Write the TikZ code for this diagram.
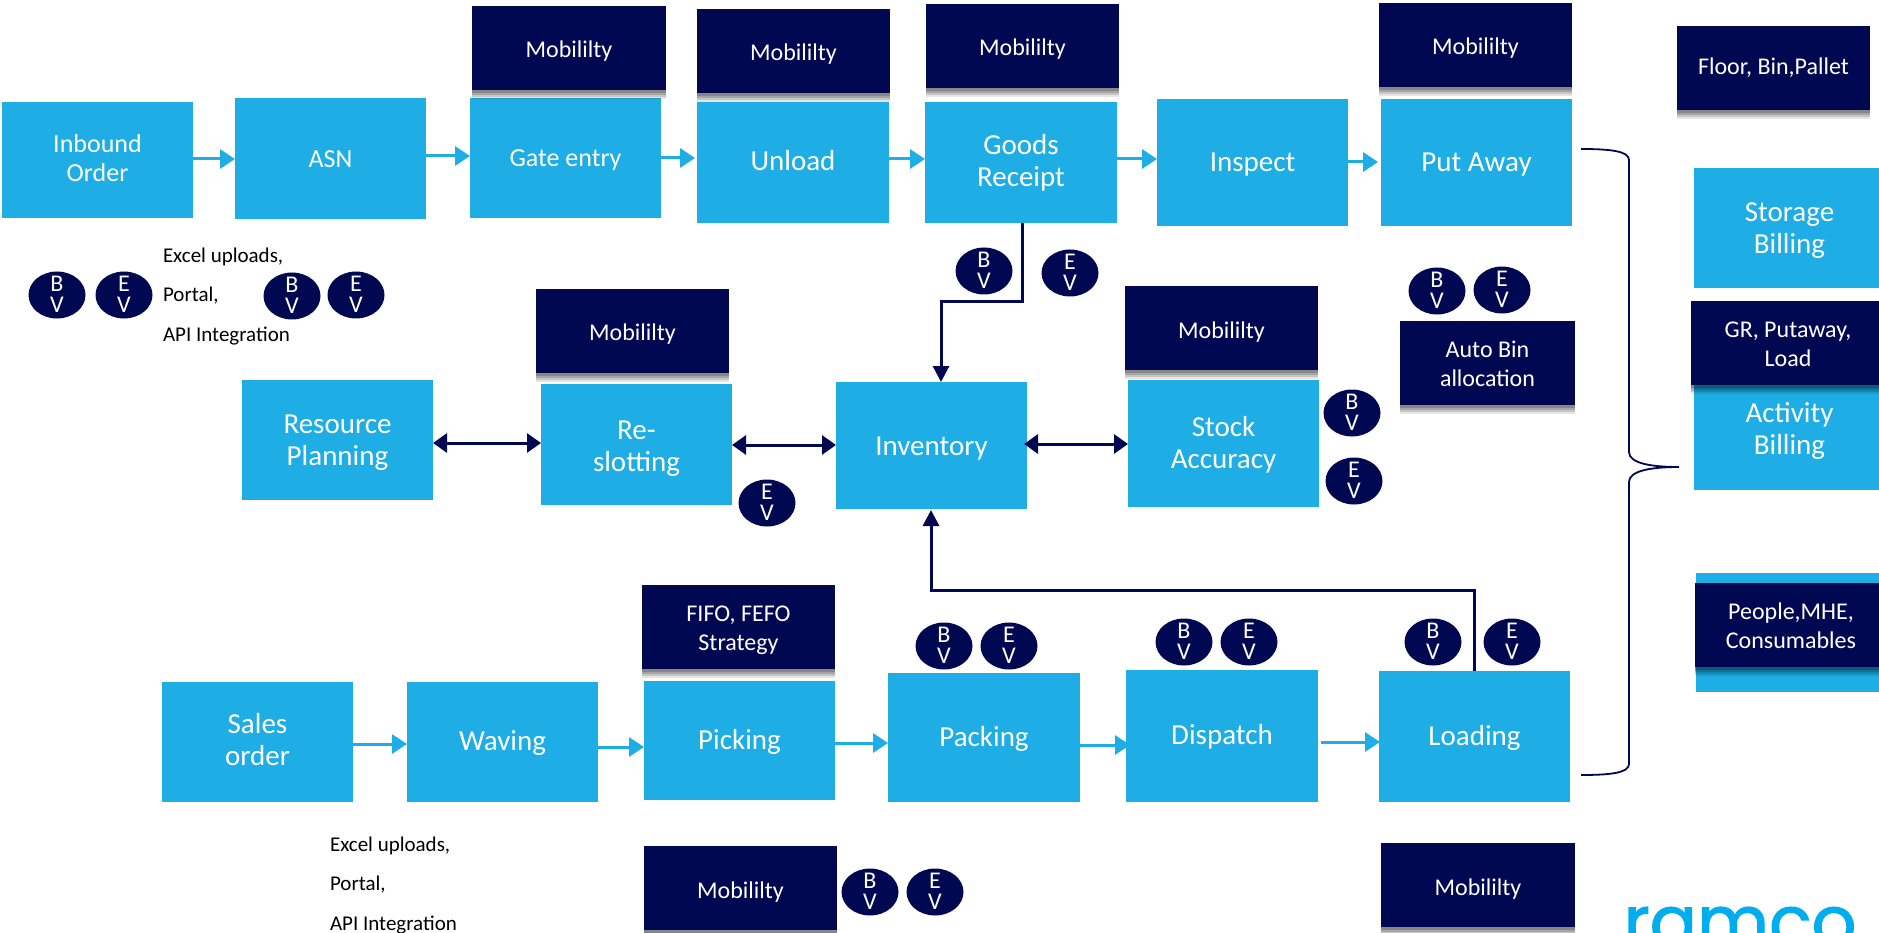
\documentclass[tikz,border=0pt]{standalone}
\usepackage{fontspec}
\setmainfont{Carlito}
\newfontfamily\logofont[FakeBold=1.6]{Poppins}
\usetikzlibrary{arrows.meta,shapes.geometric,shadows}
\definecolor{wmsblue}{HTML}{1EADE4}
\definecolor{wmsnavy}{HTML}{010852}
\definecolor{logoblue}{HTML}{00AEEF}
\tikzset{
  x=1pt,y=-1pt,
  base/.style={inner sep=0pt,outer sep=0pt,align=center,text=white},
  proc/.style={base,fill=wmsblue,font=\fontsize{29}{32}\selectfont},
  procs/.style={proc,font=\fontsize{26}{29}\selectfont},
  tag/.style={base,fill=wmsnavy,font=\fontsize{24}{29}\selectfont,
    drop shadow={shadow xshift=0pt,shadow yshift=-9pt,opacity=.10,fill=black},
    drop shadow={shadow xshift=0pt,shadow yshift=-7pt,opacity=.14,fill=black},
    drop shadow={shadow xshift=0pt,shadow yshift=-5pt,opacity=.16,fill=black},
    drop shadow={shadow xshift=0pt,shadow yshift=-3pt,opacity=.18,fill=black}},
  vbub/.style={base,ellipse,fill=wmsnavy,minimum width=57pt,minimum height=47pt,font=\fontsize{24}{19}\selectfont},
  note/.style={anchor=west,inner sep=0pt,outer sep=0pt,text=black,font=\fontsize{21}{24}\selectfont},
  flow/.style={draw=wmsblue,line width=3pt,-{Triangle[length=15pt,width=19pt]}},
  link/.style={draw=wmsnavy,line width=3pt,-{Triangle[length=16pt,width=16pt]}},
  twin/.style={draw=wmsnavy,line width=3pt,{Triangle[length=14pt,width=19pt]}-{Triangle[length=14pt,width=19pt]}},
  brace/.style={draw=wmsnavy,line width=1.8pt}
}
% optional argument: how far the text sits below the box centre
\newcommand{\wmsbox}[8][3]{\node[#2,minimum width={(#6-#4)*1pt},minimum height={(#7-#5)*1pt}] (#3) at ({(#4+#6)/2},{(#5+#7)/2}) {\raisebox{-#1pt}[\height][\depth]{\begin{tabular}{@{}c@{}}#8\end{tabular}}};}
\newcommand{\wmsbub}[4]{\node[vbub] (#1) at (#2,#3) {\raisebox{-8pt}[0pt][0pt]{\makebox[0pt]{\begin{tabular}{@{}c@{}}#4\end{tabular}}}};}
\begin{document}
\begin{tikzpicture}
\useasboundingbox (0,0) rectangle (1879,933);
% process boxes
\wmsbox[1]{procs}{inb}{2}{102}{193}{218}{Inbound\\Order}
\wmsbox{procs}{asn}{235}{98}{426}{219}{ASN}
\wmsbox{procs}{gate}{470}{98}{661}{218}{Gate entry}
\wmsbox[2]{proc}{unl}{697}{102}{889}{223}{Unload}
\wmsbox[2]{proc}{good}{925}{102}{1117}{223}{Goods\\Receipt}
\wmsbox{proc}{insp}{1157}{99}{1348}{226}{Inspect}
\wmsbox{proc}{put}{1381}{99}{1572}{226}{Put Away}
\wmsbox{proc}{stor}{1694}{168}{1885}{288}{Storage\\Billing}
\wmsbox[3.5]{proc}{act}{1694}{368}{1885}{490}{Activity\\Billing}
\wmsbox{proc}{peob}{1696}{573}{1887}{692}{}
\wmsbox{proc}{res}{242}{380}{433}{500}{Resource\\Planning}
\wmsbox[5]{proc}{resl}{541}{384}{732}{505}{Re-\\slotting}
\wmsbox[4]{proc}{inv}{836}{382}{1027}{509}{Inventory}
\wmsbox{proc}{stock}{1128}{380}{1319}{507}{Stock\\Accuracy}
\wmsbox[1]{proc}{sal}{162}{682}{353}{802}{Sales\\order}
\wmsbox[2]{proc}{wav}{407}{682}{598}{802}{Waving}
\wmsbox[2.5]{proc}{pick}{644}{681}{835}{800}{Picking}
\wmsbox{proc}{pack}{888}{673}{1080}{802}{Packing}
\wmsbox[2]{proc}{disp}{1126}{670}{1318}{802}{Dispatch}
\wmsbox{proc}{load}{1379}{671}{1570}{802}{Loading}
% navy tags
\wmsbox[3.5]{tag}{m1}{472}{6}{666}{90}{Mobililty}
\wmsbox[3.5]{tag}{m2}{697}{9}{890}{93}{Mobililty}
\wmsbox[3.5]{tag}{m3}{926}{4}{1119}{88}{Mobililty}
\wmsbox[3.5]{tag}{m4}{1379}{3}{1572}{87}{Mobililty}
\wmsbox[1]{tag}{floor}{1677}{26}{1870}{110}{Floor, Bin,Pallet}
\wmsbox{tag}{gr}{1691}{301}{1885}{385}{GR, Putaway,\\Load}
\wmsbox{tag}{peo}{1695}{583}{1887}{667}{People,MHE,\\Consumables}
\wmsbox[3.5]{tag}{auto}{1400}{321}{1575}{405}{Auto Bin\\allocation}
\wmsbox[3.5]{tag}{m5}{536}{289}{729}{373}{Mobililty}
\wmsbox[4.5]{tag}{m6}{1125}{286}{1318}{370}{Mobililty}
\wmsbox{tag}{fifo}{642}{585}{835}{669}{FIFO, FEFO\\Strategy}
\wmsbox[4.5]{tag}{m7}{644}{846}{837}{930}{Mobililty}
\wmsbox[4.5]{tag}{m8}{1381}{843}{1575}{927}{Mobililty}
% BV / EV bubbles
\wmsbub{b1}{57}{295}{B\\V}
\wmsbub{e1}{124}{295}{E\\V}
\wmsbub{b2}{292}{296}{B\\V}
\wmsbub{e2}{356}{295}{E\\V}
\wmsbub{b3}{984}{271}{B\\V}
\wmsbub{e3}{1070}{273}{E\\V}
\wmsbub{b4}{1437}{291}{B\\V}
\wmsbub{e4}{1502}{290}{E\\V}
\wmsbub{b5}{1352}{413}{B\\V}
\wmsbub{e5}{1354}{481}{E\\V}
\wmsbub{e6}{767}{503}{E\\V}
\wmsbub{b7}{944}{646}{B\\V}
\wmsbub{e7}{1009}{646}{E\\V}
\wmsbub{b8}{1184}{642}{B\\V}
\wmsbub{e8}{1249}{642}{E\\V}
\wmsbub{b9}{1433}{642}{B\\V}
\wmsbub{e9}{1512}{642}{E\\V}
\wmsbub{b10}{870}{892}{B\\V}
\wmsbub{e10}{935}{892}{E\\V}
% plain notes
\node[note] (n1) at (163,257) {Excel uploads,};
\node[note] (n2) at (163,296) {Portal,};
\node[note] (n3) at (163,336) {API Integration};
\node[note] (n4) at (330,846) {Excel uploads,};
\node[note] (n5) at (330,885) {Portal,};
\node[note] (n6) at (330,925) {API Integration};
% logo
\node[anchor=base,inner sep=0pt,text=logoblue,font=\fontsize{70}{72}\logofont] (logo) at (1740,946) {ramco};
% light-blue flow arrows
\draw[flow] (inb.east |- 0,159) -- (asn.west |- 0,159);
\draw[flow] (asn.east |- 0,156) -- (gate.west |- 0,156);
\draw[flow] (gate.east |- 0,158) -- ([xshift=-2pt]unl.west |- 0,158);
\draw[flow] (unl.east |- 0,159) -- (good.west |- 0,159);
\draw[flow] (good.east |- 0,159) -- (insp.west |- 0,159);
\draw[flow] (insp.east |- 0,162) -- ([xshift=-3pt]put.west |- 0,162);
\draw[flow] (sal.east |- 0,744) -- (wav.west |- 0,744);
\draw[flow] (wav.east |- 0,747) -- (pick.west |- 0,747);
\draw[flow] (pick.east |- 0,743) -- (pack.west |- 0,743);
\draw[flow] (pack.east |- 0,745) -- ([xshift=4pt]disp.west |- 0,745);
\draw[flow] ([xshift=3pt]disp.east |- 0,742) -- ([xshift=1pt]load.west |- 0,742);
% navy links
\draw[link] (good.south -| 1022,0) -- (1022,302) -- (941,302) -- (inv.north -| 941,0);
\draw[link] (load.north -| 1474,0) -- (1474,590) -- (931,590) -- ([yshift=-1pt]inv.south -| 931,0);
\draw[twin] (res.east |- 0,443) -- (resl.west |- 0,443);
\draw[twin] (resl.east |- 0,445) -- (inv.west |- 0,445);
\draw[twin] ([xshift=-3pt]inv.east |- 0,444) -- (stock.west |- 0,444);
% brace
\draw[brace] (1581,149) .. controls (1610,149) and (1629,151) .. (1629,160)
  -- (1629,452) .. controls (1629,463) and (1650,467) .. (1679,467)
  .. controls (1650,467) and (1629,471) .. (1629,482)
  -- (1629,764) .. controls (1629,773) and (1610,775) .. (1581,775);
\end{tikzpicture}
\end{document}
